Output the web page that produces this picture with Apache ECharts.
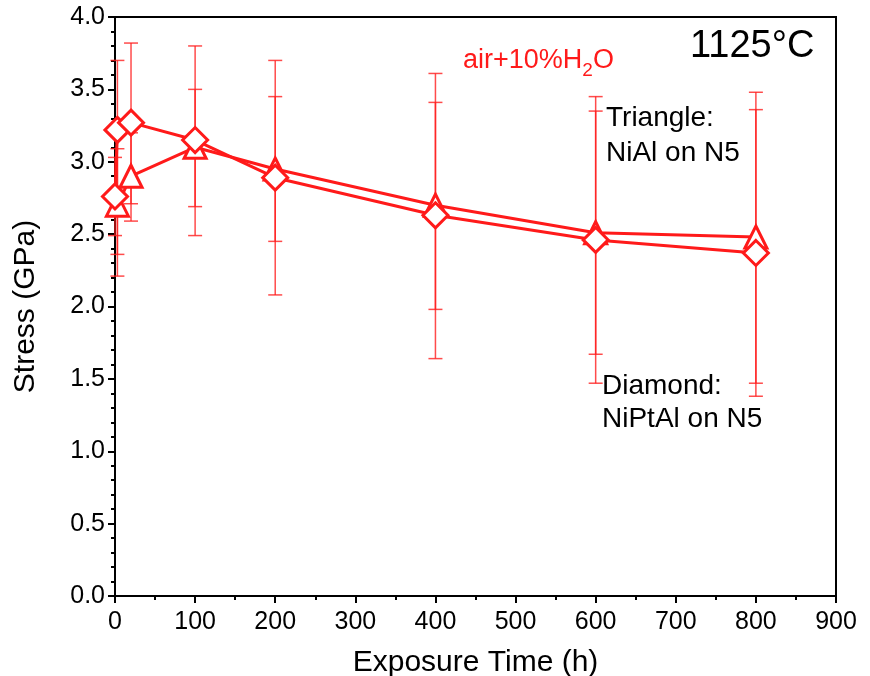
<!DOCTYPE html>
<html>
<head>
<meta charset="utf-8">
<title>Stress vs exposure time</title>
<script src="https://cdn.jsdelivr.net/npm/echarts@6/dist/echarts.min.js"></script>
<style>
  html, body { margin: 0; padding: 0; background: #fff; }
  #chart { width: 870px; height: 676px; }
</style>
</head>
<body>
<div id="chart"></div>
<script>
// 菱形: NiPtAl on N5
const diamondTime = [0, 3, 20, 100, 200, 400, 600, 800]
const diamondStress = [2.76, 3.22, 3.27, 3.15, 2.89, 2.63, 2.46, 2.37]
const diamondLow = [2.49, 2.21, 2.59, 2.49, 2.08, 1.64, 1.47, 1.38]
const diamondHigh = [3.03, 3.70, 3.82, 3.80, 3.70, 3.61, 3.45, 3.36]

// 三角: NiAl on N5
const triangleTime = [3, 20, 100, 200, 400, 600, 800]
const triangleStress = [2.70, 2.90, 3.10, 2.95, 2.70, 2.51, 2.48]
const triangleLow = [2.36, 2.71, 2.69, 2.45, 1.98, 1.67, 1.47]
const triangleHigh = [3.09, 3.20, 3.50, 3.45, 3.41, 3.35, 3.48]

const xTicks = [0, 100, 200, 300, 400, 500, 600, 700, 800, 900]
const yTicks = [0, 0.5, 1.0, 1.5, 2.0, 2.5, 3.0, 3.5, 4.0]

const RED = '#ff1a1a'
const FONT = 'Liberation Sans'

const chart = echarts.init(document.getElementById('chart'), null, { renderer: 'canvas' })

// 误差棒 custom series
function errorBars (times, low, high) {
  return {
    type: 'custom',
    z: 1,
    silent: true,
    data: times.map((t, i) => [t, low[i], high[i]]),
    renderItem (params, api) {
      const top = api.coord([api.value(0), api.value(2)])
      const bot = api.coord([api.value(0), api.value(1)])
      const w = 7
      const style = { stroke: 'rgba(255,30,30,0.8)', lineWidth: 1.5 }
      return {
        type: 'group',
        children: [
          { type: 'line', shape: { x1: top[0], y1: top[1], x2: bot[0], y2: bot[1] }, style },
          { type: 'line', shape: { x1: top[0] - w, y1: top[1], x2: top[0] + w, y2: top[1] }, style },
          { type: 'line', shape: { x1: bot[0] - w, y1: bot[1], x2: bot[0] + w, y2: bot[1] }, style }
        ]
      }
    }
  }
}

function lineSeries (name, times, values, symbol, size) {
  return {
    name,
    type: 'line',
    z: 3,
    data: times.map((t, i) => [t, values[i]]),
    symbol,
    symbolSize: size,
    showAllSymbol: true,
    clip: false,
    lineStyle: { color: RED, width: 3 },
    itemStyle: { color: '#fff', borderColor: RED, borderWidth: 3 }
  }
}

const option = {
  animation: false,
  textStyle: { fontFamily: FONT },
  grid: {
    left: 115,
    top: 17,
    right: 34,
    bottom: 80,
    outerBoundsMode: 'none',
    show: true,
    borderColor: '#000',
    borderWidth: 2,
    backgroundColor: 'transparent'
  },
  xAxis: {
    type: 'value',
    min: xTicks[0],
    max: xTicks[xTicks.length - 1],
    interval: 100,
    name: 'Exposure Time (h)',
    nameLocation: 'middle',
    nameGap: 52,
    nameTextStyle: { fontSize: 30, color: '#000', fontFamily: FONT },
    axisLine: { lineStyle: { color: '#000', width: 2 } },
    axisTick: { inside: false, length: 7, lineStyle: { color: '#000', width: 2 } },
    minorTick: { show: true, splitNumber: 2, length: 4, lineStyle: { color: '#000', width: 2 } },
    axisLabel: { fontSize: 25, color: '#000', margin: 14, fontFamily: FONT },
    splitLine: { show: false }
  },
  yAxis: {
    type: 'value',
    min: yTicks[0],
    max: yTicks[yTicks.length - 1],
    interval: 0.5,
    name: 'Stress (GPa)',
    nameLocation: 'middle',
    nameGap: 74,
    nameRotate: 90,
    nameTextStyle: { fontSize: 30, color: '#000', fontFamily: FONT },
    axisLine: { lineStyle: { color: '#000', width: 2 } },
    axisTick: { inside: false, length: 7, lineStyle: { color: '#000', width: 2 } },
    minorTick: { show: true, splitNumber: 5, length: 4, lineStyle: { color: '#000', width: 2 } },
    axisLabel: {
      fontSize: 25,
      color: '#000',
      margin: 10,
      fontFamily: FONT,
      formatter: v => v.toFixed(1)
    },
    splitLine: { show: false }
  },
  series: [
    errorBars(diamondTime, diamondLow, diamondHigh),
    errorBars(triangleTime, triangleLow, triangleHigh),
    lineSeries('NiAl on N5', triangleTime, triangleStress, 'triangle', 22),
    lineSeries('NiPtAl on N5', diamondTime, diamondStress, 'diamond', 25)
  ],
  graphic: [
    {
      type: 'text',
      left: 463,
      top: 47,
      z: 10,
      style: {
        text: '{a|air+10%H}{s|2}{a|O}',
        rich: {
          a: { fontSize: 27, fill: RED, fontFamily: FONT, lineHeight: 32, verticalAlign: 'bottom' },
          s: { fontSize: 19, fill: RED, fontFamily: FONT, lineHeight: 32, verticalAlign: 'bottom', padding: [0, 0, -6, 0] }
        }
      }
    },
    {
      type: 'text',
      left: 690,
      top: 28,
      z: 10,
      style: { text: '1125°C', fontSize: 38, fill: '#000', fontFamily: FONT }
    },
    {
      type: 'text',
      left: 606,
      top: 101,
      z: 10,
      style: { text: 'Triangle:\nNiAl on N5', fontSize: 28, lineHeight: 35, fill: '#000', fontFamily: FONT }
    },
    {
      type: 'text',
      left: 602,
      top: 370,
      z: 10,
      style: { text: 'Diamond:\nNiPtAl on N5', fontSize: 28, lineHeight: 33, fill: '#000', fontFamily: FONT }
    }
  ]
}

chart.setOption(option)
</script>
</body>
</html>
